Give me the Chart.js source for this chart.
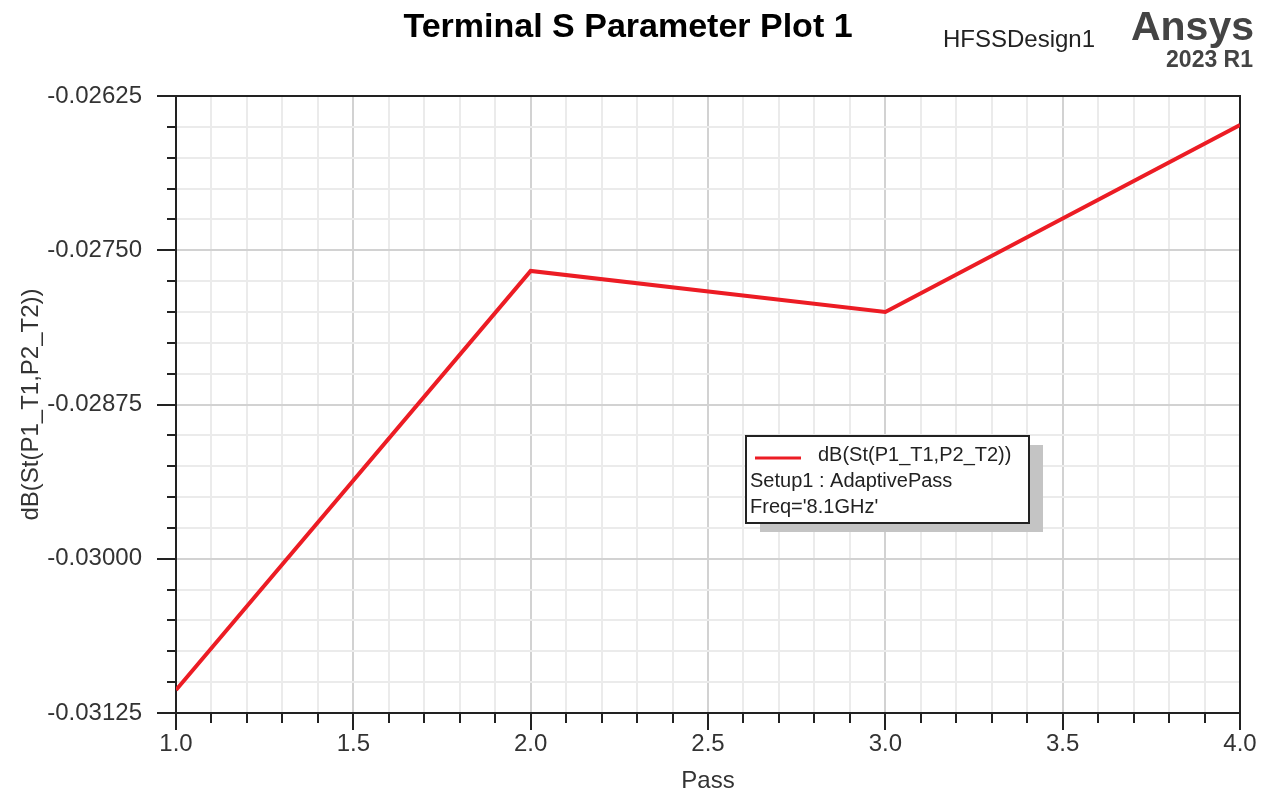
<!DOCTYPE html>
<html>
<head>
<meta charset="utf-8">
<script src="https://cdn.jsdelivr.net/npm/chart.js@4/dist/chart.umd.min.js"></script>
<style>
  html, body { margin: 0; padding: 0; background: #fff; }
  #wrap { position: relative; width: 1268px; height: 798px; }
</style>
</head>
<body>
<div id="wrap"><canvas id="spChart"></canvas></div>
<script>
// data
const passes = [1, 2, 3, 4];
const dbValues = [-0.031064, -0.027668, -0.028000, -0.026485];

const yMin = -0.03125, yMax = -0.02625;
const yMajorStep = 0.00125, yMinorStep = 0.00025;
const xMin = 1, xMax = 4;
const xMajorStep = 0.5, xMinorStep = 0.1;

const seriesName = 'dB(St(P1_T1,P2_T2))';
const legendLines = ['Setup1 : AdaptivePass', "Freq='8.1GHz'"];

const fontFam = "'Liberation Sans', Arial, sans-serif";
const lineRed = '#ec1c24';
const axisDark = '#222';

function isMajor(v, step) {
    const r = v / step;
    return Math.abs(r - Math.round(r)) < 1e-6;
}

// header texts, tick marks, frame and legend box
const decorPlugin = {
    id: 'decor',
    beforeDatasetsDraw(chart) {
        const ctx = chart.ctx;
        const a = chart.chartArea;
        ctx.save();
        ctx.strokeStyle = axisDark;
        ctx.lineWidth = 2;
        ctx.beginPath();
        ctx.moveTo(a.left, a.top);
        ctx.lineTo(a.right, a.top);
        ctx.lineTo(a.right, a.bottom);
        ctx.stroke();
        ctx.restore();
    },
    afterDraw(chart) {
        const ctx = chart.ctx;
        const a = chart.chartArea;
        const xs = chart.scales.x, ys = chart.scales.y;
        ctx.save();

        // tick marks
        ctx.strokeStyle = axisDark;
        ctx.lineWidth = 2;
        ys.ticks.forEach(t => {
            const y = Math.round(ys.getPixelForValue(t.value));
            const len = isMajor(t.value, yMajorStep) ? 19 : 9;
            ctx.beginPath();
            ctx.moveTo(a.left - len, y);
            ctx.lineTo(a.left, y);
            ctx.stroke();
        });
        xs.ticks.forEach(t => {
            const x = Math.round(xs.getPixelForValue(t.value));
            const len = isMajor(t.value - xMin, xMajorStep) ? 17 : 10;
            ctx.beginPath();
            ctx.moveTo(x, a.bottom);
            ctx.lineTo(x, a.bottom + len);
            ctx.stroke();
        });

        // title + branding
        ctx.fillStyle = '#000';
        ctx.textBaseline = 'alphabetic';
        ctx.textAlign = 'center';
        ctx.font = 'bold 34px ' + fontFam;
        ctx.fillText('Terminal S Parameter Plot 1', 628, 37);

        ctx.fillStyle = '#222';
        ctx.textAlign = 'left';
        ctx.font = '24px ' + fontFam;
        ctx.fillText('HFSSDesign1', 943, 47);

        ctx.fillStyle = '#444';
        ctx.textAlign = 'right';
        ctx.font = 'bold 41px ' + fontFam;
        ctx.fillText('Ansys', 1254, 40);
        ctx.font = 'bold 23px ' + fontFam;
        ctx.fillText('2023 R1', 1253, 67);

        // legend box with drop shadow
        const lx = 746, ly = 436, lw = 283, lh = 87;
        ctx.fillStyle = '#c4c4c4';
        ctx.fillRect(lx + 14, ly + 9, lw, lh);
        ctx.fillStyle = '#fff';
        ctx.fillRect(lx, ly, lw, lh);
        ctx.strokeStyle = axisDark;
        ctx.lineWidth = 2;
        ctx.strokeRect(lx, ly, lw, lh);

        ctx.strokeStyle = lineRed;
        ctx.lineWidth = 3;
        ctx.beginPath();
        ctx.moveTo(lx + 9, ly + 22);
        ctx.lineTo(lx + 55, ly + 22);
        ctx.stroke();

        ctx.fillStyle = '#222';
        ctx.textAlign = 'left';
        ctx.textBaseline = 'middle';
        ctx.font = '20px ' + fontFam;
        ctx.fillText(seriesName, lx + 72, ly + 19);
        ctx.fillText(legendLines[0], lx + 4, ly + 45);
        ctx.fillText(legendLines[1], lx + 4, ly + 71);

        ctx.restore();
    }
};

const ctxSp = document.getElementById('spChart').getContext('2d');
new Chart(ctxSp, {
    type: 'line',
    data: {
        datasets: [{
            label: seriesName,
            data: passes.map((p, i) => ({ x: p, y: dbValues[i] })),
            borderColor: lineRed,
            backgroundColor: lineRed,
            borderWidth: 4,
            pointRadius: 0,
            tension: 0
        }]
    },
    options: {
        responsive: true,
        maintainAspectRatio: false,
        animation: false,
        layout: { padding: { top: 96, right: 28, left: 0, bottom: 0 } },
        plugins: {
            legend: { display: false },
            title: { display: false },
            tooltip: { enabled: false }
        },
        scales: {
            x: {
                type: 'linear',
                min: xMin,
                max: xMax,
                afterFit(scale) {
                    scale.height = 85;
                    scale.paddingRight = 0;
                    scale.paddingLeft = 0;
                },
                border: { color: axisDark, width: 2 },
                grid: {
                    drawTicks: false,
                    lineWidth: 2,
                    color: c => isMajor(c.tick.value - xMin, xMajorStep) ? '#d2d2d2' : '#ebebeb'
                },
                ticks: {
                    stepSize: xMinorStep,
                    autoSkip: false,
                    maxRotation: 0,
                    padding: 17,
                    color: '#333',
                    font: { family: fontFam, size: 24 },
                    callback: v => isMajor(v - xMin, xMajorStep) ? Number(v).toFixed(1) : ''
                },
                title: {
                    display: true,
                    text: 'Pass',
                    color: '#333',
                    font: { family: fontFam, size: 24 },
                    padding: { top: 0, bottom: 2 }
                }
            },
            y: {
                type: 'linear',
                min: yMin,
                max: yMax,
                afterFit(scale) {
                    scale.width = 176;
                    scale.paddingTop = 0;
                    scale.paddingBottom = 0;
                },
                border: { color: axisDark, width: 2 },
                grid: {
                    drawTicks: false,
                    lineWidth: 2,
                    color: c => isMajor(c.tick.value, yMajorStep) ? '#d2d2d2' : '#ebebeb'
                },
                ticks: {
                    stepSize: yMinorStep,
                    autoSkip: false,
                    maxTicksLimit: 100,
                    padding: 34,
                    color: '#333',
                    font: { family: fontFam, size: 24 },
                    callback: v => isMajor(v, yMajorStep) ? Number(v).toFixed(5) : ''
                },
                title: {
                    display: true,
                    text: seriesName,
                    color: '#333',
                    font: { family: fontFam, size: 24 },
                    padding: { top: 17, bottom: 0 }
                }
            }
        }
    },
    plugins: [decorPlugin]
});
</script>
</body>
</html>
